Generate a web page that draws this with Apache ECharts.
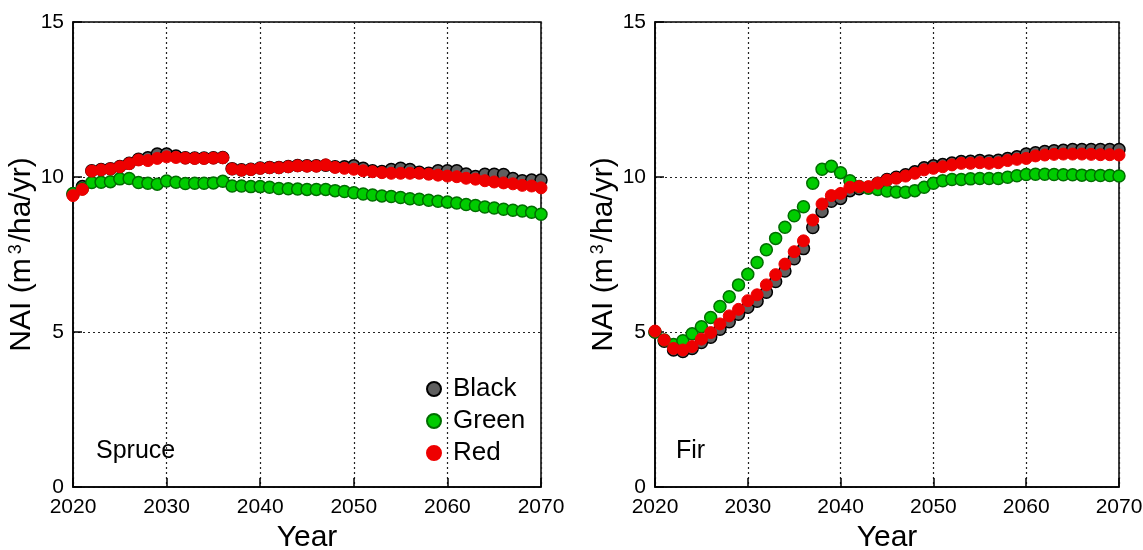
<!DOCTYPE html>
<html><head><meta charset="utf-8">
<script src="https://cdn.jsdelivr.net/npm/echarts@6/dist/echarts.min.js"></script>
<style>html,body{margin:0;padding:0;background:#fff}#c{width:1143px;height:550px}</style>
</head><body><div id="c"></div>
<script>
const years = [];
for (let y = 2020; y <= 2070; y++) years.push(y);

const spruceBlack = [9.45,9.69,10.20,10.24,10.27,10.34,10.44,10.57,10.62,10.74,10.74,10.68,10.62,10.61,10.61,10.62,10.63,10.27,10.23,10.25,10.29,10.31,10.31,10.34,10.37,10.36,10.36,10.38,10.33,10.33,10.36,10.28,10.20,10.18,10.24,10.28,10.24,10.15,10.12,10.20,10.20,10.20,10.10,10.02,10.09,10.09,10.08,9.95,9.88,9.90,9.90];
const spruceGreen = [9.47,9.62,9.82,9.83,9.85,9.94,9.95,9.82,9.80,9.77,9.87,9.83,9.79,9.80,9.80,9.81,9.86,9.71,9.71,9.69,9.69,9.67,9.63,9.62,9.61,9.60,9.60,9.60,9.56,9.53,9.49,9.45,9.42,9.39,9.37,9.34,9.30,9.28,9.25,9.22,9.19,9.16,9.11,9.08,9.03,9.00,8.96,8.93,8.90,8.86,8.80];
const spruceRed = [9.40,9.60,10.19,10.23,10.26,10.33,10.43,10.55,10.53,10.60,10.65,10.63,10.61,10.60,10.60,10.61,10.62,10.26,10.22,10.24,10.28,10.30,10.30,10.33,10.36,10.35,10.35,10.39,10.31,10.28,10.25,10.20,10.17,10.14,10.12,10.12,10.12,10.12,10.09,10.06,10.03,10.01,9.96,9.93,9.88,9.84,9.81,9.78,9.73,9.71,9.65];

const firBlack = [5.00,4.70,4.42,4.37,4.47,4.66,4.83,5.09,5.33,5.57,5.80,5.99,6.28,6.63,6.97,7.36,7.69,8.37,8.89,9.22,9.31,9.56,9.62,9.66,9.80,9.92,9.99,10.07,10.17,10.30,10.36,10.40,10.45,10.50,10.51,10.53,10.52,10.54,10.60,10.65,10.74,10.78,10.82,10.85,10.86,10.89,10.89,10.89,10.89,10.89,10.89];
const firGreen = [5.00,4.74,4.60,4.72,4.94,5.17,5.47,5.82,6.14,6.52,6.86,7.24,7.65,8.02,8.38,8.75,9.04,9.80,10.25,10.35,10.14,9.88,9.69,9.64,9.60,9.55,9.52,9.51,9.56,9.67,9.80,9.88,9.92,9.92,9.94,9.95,9.95,9.95,9.99,10.04,10.08,10.09,10.09,10.08,10.07,10.07,10.06,10.05,10.05,10.05,10.03];
const firRed = [5.03,4.74,4.47,4.42,4.53,4.77,4.98,5.26,5.52,5.73,6.01,6.20,6.52,6.85,7.19,7.59,7.94,8.61,9.13,9.40,9.47,9.67,9.69,9.69,9.80,9.90,9.96,10.03,10.12,10.23,10.28,10.33,10.39,10.44,10.44,10.46,10.44,10.46,10.53,10.57,10.60,10.68,10.71,10.73,10.74,10.74,10.74,10.73,10.72,10.72,10.71];

const seriesNames = ['Black','Green','Red'];
const panelLabels = ['Spruce','Fir'];

const styles = {
  Black: {color:'#5f5f5f', borderColor:'#000000', borderWidth:1.5, opacity:1},
  Green: {color:'#00cc00', borderColor:'#006e00', borderWidth:1.5, opacity:1},
  Red:   {color:'#ee0000', borderColor:'#ee0000', borderWidth:1, opacity:1}
};
const FONT = 'Liberation Sans';
const panels = [
  {data:{Black:spruceBlack, Green:spruceGreen, Red:spruceRed}},
  {data:{Black:firBlack, Green:firGreen, Red:firRed}}
];

function pairs(arr){ return arr.map((v,i)=>[years[i], v]); }

const grids = [
  {left:73, top:22, width:468, height:465},
  {left:655, top:22, width:464, height:465}
].map(g => Object.assign(g, {show:true, borderColor:'#000', borderWidth:1.5, backgroundColor:'transparent', containLabel:false, outerBoundsMode:'none'}));

const xAxes = grids.map((g,i)=>({
  type:'value', gridIndex:i, min:2020, max:2070, interval:10,
  name:'Year', nameLocation:'middle', nameGap:34,
  nameTextStyle:{fontFamily:FONT, fontSize:30, color:'#000'},
  axisLine:{show:true, lineStyle:{color:'#000', width:1.5}},
  axisTick:{show:true, inside:true, length:9, lineStyle:{color:'#000', width:1.5}},
  axisLabel:{fontFamily:FONT, fontSize:21, color:'#000', margin:10, formatter:v=>String(v)},
  splitLine:{show:true, lineStyle:{color:'#222', type:[2,3], width:1.2}}
}));
const yAxes = grids.map((g,i)=>({
  type:'value', gridIndex:i, min:0, max:15, interval:5,
  name:'{a|NAI (m}{s|3}{a|/ha/yr)}', nameLocation:'middle', nameGap:34,
  nameTextStyle:{fontFamily:FONT, fontSize:30, color:'#000',
    rich:{a:{fontFamily:FONT, fontSize:30, color:'#000', lineHeight:30},
          s:{fontFamily:FONT, fontSize:18, color:'#000', verticalAlign:'top', lineHeight:30, padding:[0,2,8,4]}}},
  axisLine:{show:true, lineStyle:{color:'#000', width:1.5}},
  axisTick:{show:true, inside:true, length:9, lineStyle:{color:'#000', width:1.5}},
  axisLabel:{fontFamily:FONT, fontSize:21, color:'#000', margin:9},
  splitLine:{show:true, lineStyle:{color:'#222', type:[2,3], width:1.2}}
}));

const series = [];
panels.forEach((p,i)=>{
  seriesNames.forEach((n,k)=>{
    series.push({
      name:n, type:'scatter', xAxisIndex:i, yAxisIndex:i,
      symbol:'circle', symbolSize:12, z:2+k,
      itemStyle:styles[n], data:pairs(p.data[n]),
      emphasis:{disabled:true}, animation:false
    });
  });
});

const chart = echarts.init(document.getElementById('c'), null, {renderer:'canvas'});
chart.setOption({
  animation:false,
  backgroundColor:'#fff',
  grid:grids, xAxis:xAxes, yAxis:yAxes, series:series,
  legend:{
    data:seriesNames, orient:'vertical', left:421, top:371,
    itemWidth:14, itemHeight:14, itemGap:6, icon:'circle',
    textStyle:{fontFamily:FONT, fontSize:26, color:'#000', padding:[0,0,0,7]},
    selectedMode:false
  },
  graphic:[
    {type:'text', left:96, top:439, style:{text:panelLabels[0], fontFamily:FONT, fontSize:25, fill:'#000'}},
    {type:'text', left:676, top:439, style:{text:panelLabels[1], fontFamily:FONT, fontSize:25, fill:'#000'}}
  ]
});
</script></body></html>
